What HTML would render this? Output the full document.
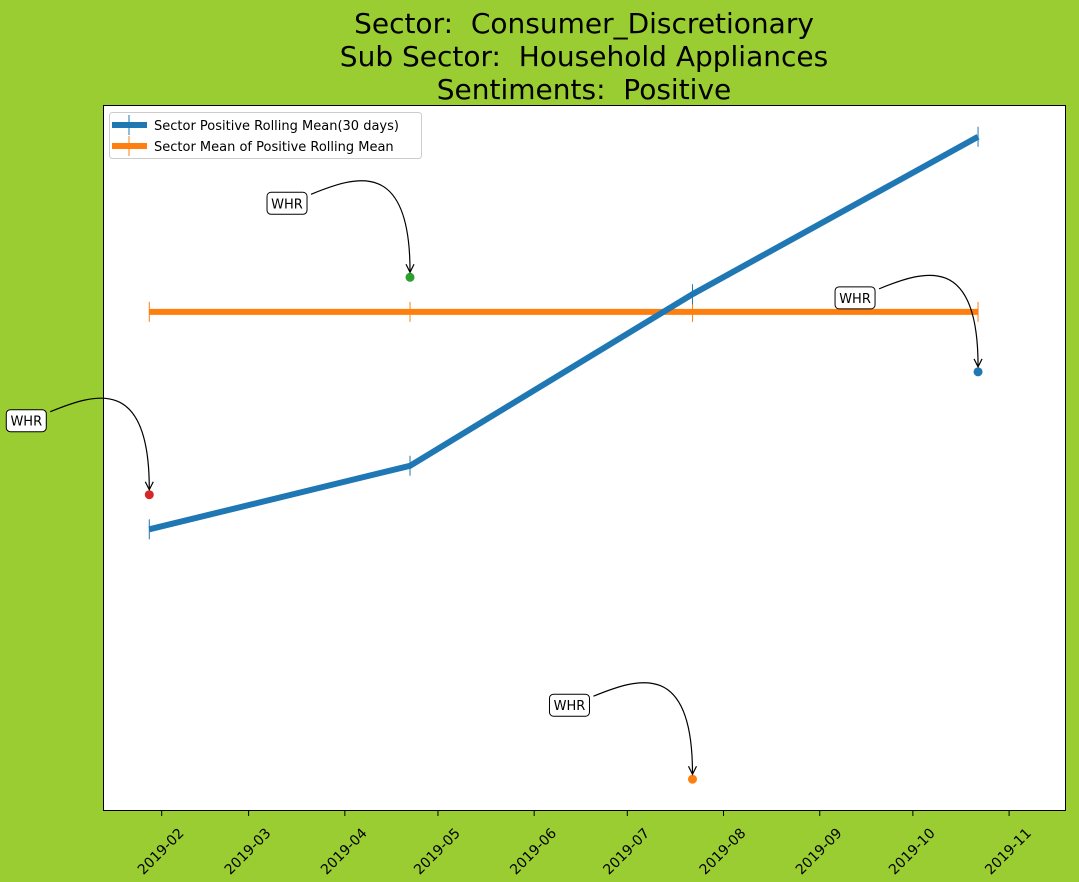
<!DOCTYPE html>
<html><head><meta charset="utf-8"><style>
body{margin:0;background:#9acd32;}
svg{display:block;font-family:"DejaVu Sans","Liberation Sans",sans-serif;}
text{white-space:pre;}
</style></head><body>
<svg id="chart" width="1079" height="882">
<rect x="0" y="0" width="1079" height="882" fill="#9acd32"/>
<g font-size="28" text-anchor="middle" fill="#000">
<text x="584" y="33" xml:space="preserve">Sector:  Consumer_Discretionary</text>
<text x="584" y="66" xml:space="preserve">Sub Sector:  Household Appliances</text>
<text x="584" y="99" xml:space="preserve">Sentiments:  Positive</text>
</g>
<rect x="103.5" y="105.5" width="962" height="705" fill="#fff" stroke="#000" stroke-width="1"/>
<g id="xaxis"></g>
<g id="series"></g>
<g id="annots"></g>
<g>
<rect x="109.5" y="112.5" width="312" height="46" rx="3" fill="#fff" stroke="#ccc"/>
<g>
<line x1="112" y1="125" x2="147" y2="125" stroke="#1f77b4" stroke-width="6"/>
<line x1="129" y1="115" x2="129" y2="135" stroke="#1f77b4" stroke-width="1"/>
<text x="154" y="130" font-size="13">Sector Positive Rolling Mean(30 days)</text>
</g>
<g>
<line x1="112" y1="146" x2="147" y2="146" stroke="#ff7f0e" stroke-width="6"/>
<line x1="129" y1="136" x2="129" y2="156" stroke="#ff7f0e" stroke-width="1"/>
<text x="154" y="151" font-size="13">Sector Mean of Positive Rolling Mean</text>
</g>
</g>
</svg>
<script>
const dates = [27, 111, 202, 294]; // day of year 2019
const rollingMean = [0.399, 0.489, 0.732, 0.955];
const meanValue = [0.707, 0.707, 0.707, 0.707];
const pointValues = [0.448, 0.756, 0.045, 0.622];
const pointColors = ['#d62728', '#2ca02c', '#ff7f0e', '#1f77b4'];
const pointLabels = ['WHR', 'WHR', 'WHR', 'WHR'];
const tickDays = [31, 59, 90, 120, 151, 181, 212, 243, 273, 304];
const tickLabels = ['2019-02','2019-03','2019-04','2019-05','2019-06','2019-07','2019-08','2019-09','2019-10','2019-11'];

const NS = 'http://www.w3.org/2000/svg';
function xS(d){ return 161.7 + (d - 31) * 3.104; }
function yS(v){ return 811 - v * 706; }
function mk(tag, attrs, parent){ const e = document.createElementNS(NS, tag); for (const k in attrs) e.setAttribute(k, attrs[k]); parent.appendChild(e); return e; }

const xaxis = document.getElementById('xaxis');
tickDays.forEach((d, i) => {
  const x = xS(d);
  const t = mk('line', {x1: x, y1: 811, x2: x, y2: 816, stroke: '#000'}, xaxis);
  
  
  const ax = x + 23, ay = 834;
  const lb = mk('text', {x: ax, y: ay, 'font-size': 14, 'text-anchor': 'end', transform: `rotate(-45 ${ax} ${ay})`}, xaxis);
  lb.textContent = tickLabels[i];
  
  
});

const series = document.getElementById('series');
function drawLine(vals, color, name){
  const g = mk('g', {}, series);
  
  
  mk('polyline', {points: vals.map((v, i) => xS(dates[i]) + ',' + yS(v)).join(' '), fill: 'none', stroke: color, 'stroke-width': 6}, g);
  vals.forEach((v, i) => {
    const m = mk('line', {x1: xS(dates[i]), x2: xS(dates[i]), y1: yS(v) - 10, y2: yS(v) + 10, stroke: color, 'stroke-width': 1}, g);
    
    
  });
}
drawLine(meanValue, '#ff7f0e', 'mean-line');
drawLine(rollingMean, '#1f77b4', 'rolling-mean-line');

const annots = document.getElementById('annots');
pointValues.forEach((v, i) => {
  const px = xS(dates[i]), py = yS(v);
  const dot = mk('circle', {cx: px, cy: py, r: 4.5, fill: pointColors[i]}, annots);
  
  
  const bx = px - 123, by = py - 74;
  const path = mk('path', {d: `M${bx + 24},${by - 9} C${bx + 70},${by - 28} ${px},${py - 118} ${px},${py - 6}`, fill: 'none', stroke: '#000', 'stroke-width': 1.2}, annots);
  
  
  mk('path', {d: `M${px - 4},${py - 13} L${px},${py - 5} L${px + 4},${py - 13}`, fill: 'none', stroke: '#000', 'stroke-width': 1.2}, annots);
  const box = mk('rect', {x: bx - 20, y: by - 11, width: 40, height: 22, rx: 4, fill: '#fff', stroke: '#000'}, annots);
  
  
  const tx = mk('text', {x: bx, y: by + 5, 'font-size': 13, 'text-anchor': 'middle'}, annots);
  tx.textContent = pointLabels[i];
  
  
});
</script>
</body></html>
